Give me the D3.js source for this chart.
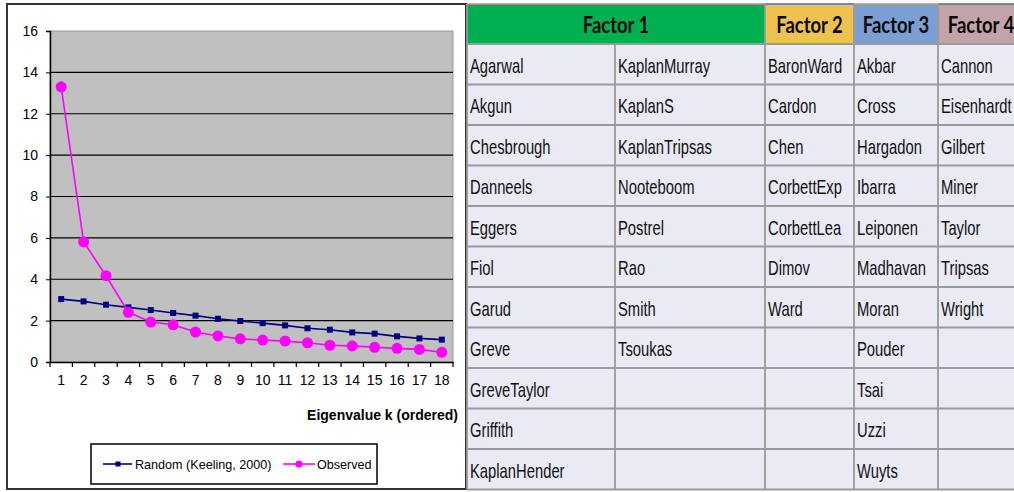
<!DOCTYPE html>
<html>
<head>
<meta charset="utf-8">
<script src="https://cdn.jsdelivr.net/npm/d3@7"></script>
<style>
  body { margin: 0; background: #fff; }
  svg { display: block; font-family: "Liberation Sans", Arial, sans-serif; }
</style>
</head>
<body>
<svg id="chart" width="1014" height="492"></svg>
<script>
var ks = d3.range(1, 19).map(String);
var randomVals = [3.04, 2.93, 2.77, 2.64, 2.51, 2.37, 2.24, 2.09, 1.98, 1.88, 1.77, 1.63, 1.56, 1.43, 1.37, 1.24, 1.14, 1.08];
var observedVals = [13.3, 5.81, 4.17, 2.40, 1.93, 1.80, 1.45, 1.26, 1.12, 1.06, 1.01, 0.93, 0.81, 0.78, 0.71, 0.66, 0.61, 0.47];
var yTicks = [0, 2, 4, 6, 8, 10, 12, 14, 16];

var factorHeaders = ['Factor 1', 'Factor 2', 'Factor 3', 'Factor 4'];
var factor1a = ['Agarwal', 'Akgun', 'Chesbrough', 'Danneels', 'Eggers', 'Fiol', 'Garud', 'Greve', 'GreveTaylor', 'Griffith', 'KaplanHender'];
var factor1b = ['KaplanMurray', 'KaplanS', 'KaplanTripsas', 'Nooteboom', 'Postrel', 'Rao', 'Smith', 'Tsoukas'];
var factor2 = ['BaronWard', 'Cardon', 'Chen', 'CorbettExp', 'CorbettLea', 'Dimov', 'Ward'];
var factor3 = ['Akbar', 'Cross', 'Hargadon', 'Ibarra', 'Leiponen', 'Madhavan', 'Moran', 'Pouder', 'Tsai', 'Uzzi', 'Wuyts'];
var factor4 = ['Cannon', 'Eisenhardt', 'Gilbert', 'Miner', 'Taylor', 'Tripsas', 'Wright'];

var svg = d3.select('#chart');

drawScree();
drawTable();

function drawScree() {
  var plot = {left: 50, right: 453, top: 31, bottom: 362};

  svg.append('rect')
    .attr('x', 7).attr('y', 4).attr('width', 459).attr('height', 485)
    .attr('fill', '#fff').attr('stroke', '#333').attr('stroke-width', 2);

  var x = d3.scaleBand().domain(ks).range([plot.left, plot.right]);
  var y = d3.scaleLinear().domain([0, 16]).range([plot.bottom, plot.top]);

  svg.append('rect')
    .attr('x', plot.left).attr('y', plot.top)
    .attr('width', plot.right - plot.left).attr('height', plot.bottom - plot.top)
    .attr('fill', '#c0c0c0').attr('stroke', '#999').attr('stroke-width', 1);

  svg.append('g').selectAll('line')
    .data(yTicks.filter(function(t) { return t > 0 && t < 16; }))
    .join('line')
    .attr('x1', plot.left).attr('x2', plot.right)
    .attr('y1', y).attr('y2', y)
    .attr('stroke', '#000').attr('stroke-width', 1.2);

  var yAxis = svg.append('g')
    .attr('transform', 'translate(' + plot.left + ',0)')
    .call(d3.axisLeft(y).tickValues(yTicks).tickSize(4).tickPadding(8).tickFormat(d3.format('d')));
  yAxis.selectAll('text').attr('font-size', 14).attr('fill', '#000').attr('font-family', 'Liberation Sans, Arial');
  yAxis.select('.domain').attr('stroke', '#000').attr('stroke-width', 1.5);

  var xAxis = svg.append('g')
    .attr('transform', 'translate(0,' + plot.bottom + ')')
    .call(d3.axisBottom(x).tickSize(0).tickPadding(13));
  xAxis.selectAll('text').attr('font-size', 14).attr('fill', '#000').attr('font-family', 'Liberation Sans, Arial');
  xAxis.select('.domain').attr('stroke', '#000').attr('stroke-width', 1.5);

  xAxis.selectAll('.edge')
    .data(ks.concat(['end']))
    .join('line')
    .attr('class', 'edge')
    .attr('x1', function(d, i) { return plot.left + i * x.step(); })
    .attr('x2', function(d, i) { return plot.left + i * x.step(); })
    .attr('y1', 0).attr('y2', 5)
    .attr('stroke', '#000').attr('stroke-width', 1.2);

  svg.append('text')
    .attr('x', 458).attr('y', 420)
    .attr('text-anchor', 'end')
    .attr('font-size', 14).attr('font-weight', 'bold')
    .text('Eigenvalue k (ordered)');

  var cx = function(d, i) { return x(ks[i]) + x.bandwidth() / 2; };
  var line = d3.line().x(cx).y(function(d) { return y(d); });

  svg.append('path').datum(randomVals)
    .attr('d', line).attr('fill', 'none')
    .attr('stroke', '#000080').attr('stroke-width', 1.6);
  svg.append('g').selectAll('rect').data(randomVals).join('rect')
    .attr('x', function(d, i) { return cx(d, i) - 3; })
    .attr('y', function(d) { return y(d) - 3; })
    .attr('width', 6).attr('height', 6)
    .attr('fill', '#000080');

  svg.append('path').datum(observedVals)
    .attr('d', line).attr('fill', 'none')
    .attr('stroke', '#ff00ff').attr('stroke-width', 1.6);
  svg.append('g').selectAll('circle').data(observedVals).join('circle')
    .attr('cx', cx).attr('cy', function(d) { return y(d); })
    .attr('r', 5.5).attr('fill', '#ff00ff');

  // legend
  var legend = svg.append('g');
  legend.append('rect')
    .attr('x', 91).attr('y', 444).attr('width', 286).attr('height', 40)
    .attr('fill', '#fff').attr('stroke', '#000').attr('stroke-width', 1.5);
  legend.append('line').attr('x1', 103).attr('x2', 132).attr('y1', 464).attr('y2', 464)
    .attr('stroke', '#000080').attr('stroke-width', 1.6);
  legend.append('rect').attr('x', 115.5).attr('y', 461.5).attr('width', 5).attr('height', 5)
    .attr('fill', '#000080');
  legend.append('text').attr('x', 135).attr('y', 468.5).attr('font-size', 12.6)
    .text('Random (Keeling, 2000)');
  legend.append('line').attr('x1', 283).attr('x2', 315).attr('y1', 464).attr('y2', 464)
    .attr('stroke', '#ff00ff').attr('stroke-width', 1.6);
  legend.append('circle').attr('cx', 299).attr('cy', 464).attr('r', 3.5)
    .attr('fill', '#ff00ff');
  legend.append('text').attr('x', 317).attr('y', 468.5).attr('font-size', 12.6)
    .text('Observed');
}

function drawTable() {
  var colEdges = [467, 615, 765, 854, 938, 1024];
  var columns = [factor1a, factor1b, factor2, factor3, factor4];
  var headerTop = 4, headerBottom = 44, rowH = 40.5, nRows = 11;
  var headerSpans = [[0, 2], [2, 3], [3, 4], [4, 5]];
  var headerFill = ['#00b050', '#edc24e', '#7b9fd3', '#c2a4a8'];
  var headerLine = ['#e07aa0', '#4a63d8', '#b89a70', '#4f7a5a'];

  var table = svg.append('g');

  table.append('rect')
    .attr('x', colEdges[0]).attr('y', headerBottom)
    .attr('width', colEdges[5] - colEdges[0]).attr('height', rowH * nRows)
    .attr('fill', '#e9eaf4');

  table.selectAll('.hdr').data(factorHeaders).join('rect')
    .attr('class', 'hdr')
    .attr('x', function(d, i) { return colEdges[headerSpans[i][0]]; })
    .attr('y', headerTop)
    .attr('width', function(d, i) { return colEdges[headerSpans[i][1]] - colEdges[headerSpans[i][0]]; })
    .attr('height', headerBottom - headerTop)
    .attr('fill', function(d, i) { return headerFill[i]; });

  table.selectAll('.hdrline').data(factorHeaders).join('line')
    .attr('class', 'hdrline')
    .attr('x1', function(d, i) { return colEdges[headerSpans[i][0]]; })
    .attr('x2', function(d, i) { return colEdges[headerSpans[i][1]]; })
    .attr('y1', headerTop).attr('y2', headerTop)
    .attr('stroke', function(d, i) { return headerLine[i]; }).attr('stroke-width', 1.5);

  table.selectAll('.hdrtext').data(factorHeaders).join('text')
    .attr('class', 'hdrtext')
    .attr('transform', function(d, i) {
      var c = (colEdges[headerSpans[i][0]] + colEdges[headerSpans[i][1]]) / 2;
      return 'translate(' + c + ',32.5) scale(0.84,1)';
    })
    .attr('text-anchor', 'middle')
    .attr('font-family', 'Lato, "Open Sans", sans-serif')
    .attr('font-weight', 'bold').attr('font-size', 22)
    .attr('fill', '#0a0a0a')
    .text(function(d) { return d; });

  var grid = table.append('g').attr('stroke', '#9a9a9a').attr('stroke-width', 1.8);
  grid.selectAll('.hrow').data(d3.range(nRows + 1)).join('line')
    .attr('x1', colEdges[0]).attr('x2', colEdges[5])
    .attr('y1', function(i) { return headerBottom + i * rowH; })
    .attr('y2', function(i) { return headerBottom + i * rowH; });
  grid.selectAll('.vcol').data(colEdges).join('line')
    .attr('x1', function(d) { return d; }).attr('x2', function(d) { return d; })
    .attr('y1', function(d, i) { return (i === 1) ? headerBottom : headerTop; })
    .attr('y2', headerBottom + nRows * rowH);

  columns.forEach(function(col, ci) {
    table.append('g').selectAll('text').data(col).join('text')
      .attr('transform', function(d, ri) {
        return 'translate(' + (colEdges[ci] + 3) + ',' + (headerBottom + ri * rowH + 28.5) + ') scale(0.74,1)';
      })
      .attr('font-size', 20).attr('fill', '#111')
      .text(function(d) { return d; });
  });
}
</script>
</body>
</html>
